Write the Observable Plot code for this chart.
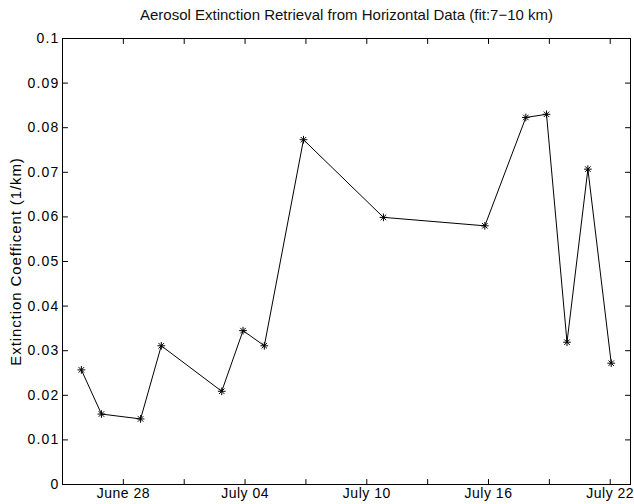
<!DOCTYPE html>
<html>
<head>
<meta charset="utf-8">
<script src="https://cdn.jsdelivr.net/npm/d3@7"></script>
<script src="https://cdn.jsdelivr.net/npm/@observablehq/plot@0.6"></script>
<style>
  html, body { margin: 0; padding: 0; background: #fff; }
  #wrap { width: 634px; height: 504px; font-family: "Liberation Sans", Arial, sans-serif; }
  #title { box-sizing: border-box; height: 28px; padding: 6px 3px 0 62px; line-height: 17px;
           font-size: 15px; text-align: center; color: #111; white-space: nowrap; }
  svg { display: block; }
  svg g[aria-label="y-axis label"] text { letter-spacing: 0.9px; }
  svg g[aria-label="y-axis tick label"] text { letter-spacing: 1.2px; }
  svg g[aria-label="x-axis tick label"] text { letter-spacing: 0.5px; }
</style>
</head>
<body>
<div id="wrap">
  <div id="title">Aerosol Extinction Retrieval from Horizontal Data (fit:7&minus;10 km)</div>
  <div id="chart"></div>
</div>
<script>
const times = [
  "2004-06-25T22:20", "2004-06-26T22:05", "2004-06-28T20:24", "2004-06-29T20:53",
  "2004-07-02T20:24", "2004-07-03T21:36", "2004-07-04T22:48", "2004-07-06T21:07",
  "2004-07-10T19:41", "2004-07-15T19:41", "2004-07-17T20:10", "2004-07-18T20:38",
  "2004-07-19T20:53", "2004-07-20T21:36", "2004-07-22T01:12"
];
const extinction = [
  0.0257, 0.0158, 0.0147, 0.0311,
  0.0209, 0.0345, 0.0311, 0.0773,
  0.0599, 0.0580, 0.0823, 0.0830,
  0.0319, 0.0707, 0.0272
];
const xDomain = ["2004-06-25", "2004-07-23"];
const xTicks = ["2004-06-28", "2004-07-01", "2004-07-04", "2004-07-07", "2004-07-10",
                "2004-07-13", "2004-07-16", "2004-07-19", "2004-07-22"];
const xLabelTicks = ["2004-06-28", "2004-07-04", "2004-07-10", "2004-07-16", "2004-07-22"];
const yTicks = [0, 0.01, 0.02, 0.03, 0.04, 0.05, 0.06, 0.07, 0.08, 0.09, 0.1];

const data = times.map((t, i) => ({date: new Date(t + "Z"), value: extinction[i]}));
const toDate = s => new Date(s + "T00:00Z");
const fmtDate = d3.utcFormat("%B %d");
const fmtY = d => String(+d.toFixed(2));

// straight tick shape for inward ticks
const tickShape = {draw(context, l) { context.moveTo(0, 0); context.lineTo(0, -l); }};
const inTick = (opts) => ({length: 5, anchor: "start", shape: tickShape, stroke: "#000", strokeWidth: 1, ...opts});

const plot = Plot.plot({
  width: 634,
  height: 476,
  marginTop: 10,
  marginBottom: 20,
  marginLeft: 62,
  marginRight: 4,
  style: {fontFamily: "'Liberation Sans', Arial, sans-serif", fontSize: "14px", color: "#000", background: "#fff"},
  x: {type: "utc", domain: xDomain.map(toDate)},
  y: {domain: [0, 0.1]},
  marks: [
    Plot.frame({stroke: "#000", strokeWidth: 1}),
    // inward tick marks on all four sides
    Plot.vector(xTicks.map(toDate), inTick({x: d => d, frameAnchor: "bottom", rotate: 0})),
    Plot.vector(xTicks.map(toDate), inTick({x: d => d, frameAnchor: "top", rotate: 180})),
    Plot.vector(yTicks, inTick({y: d => d, frameAnchor: "left", rotate: 90})),
    Plot.vector(yTicks, inTick({y: d => d, frameAnchor: "right", rotate: -90})),
    // labels
    Plot.axisX(xLabelTicks.map(toDate), {anchor: "bottom", tickSize: 0, tickPadding: 4, tickFormat: fmtDate, label: null, fill: "#000"}),
    Plot.axisY(yTicks, {anchor: "left", tickSize: 0, tickPadding: 3, tickFormat: fmtY, fill: "#000", label: null}),
    Plot.axisY(yTicks, {anchor: "left", tickSize: 0, tickFormat: null, text: null, fill: "#000", fontSize: 15,
      label: "Extinction Coefficent (1/km)", labelAnchor: "center", labelArrow: "none", labelOffset: 52}),
    // data
    Plot.line(data, {x: "date", y: "value", stroke: "#000", strokeWidth: 1}),
    Plot.dot(data, {x: "date", y: "value", symbol: "plus", r: 2.6, stroke: "#000", strokeWidth: 1}),
    Plot.dot(data, {x: "date", y: "value", symbol: "times", r: 2.6, stroke: "#000", strokeWidth: 1})
  ]
});
document.getElementById("chart").appendChild(plot);
</script>
</body>
</html>
